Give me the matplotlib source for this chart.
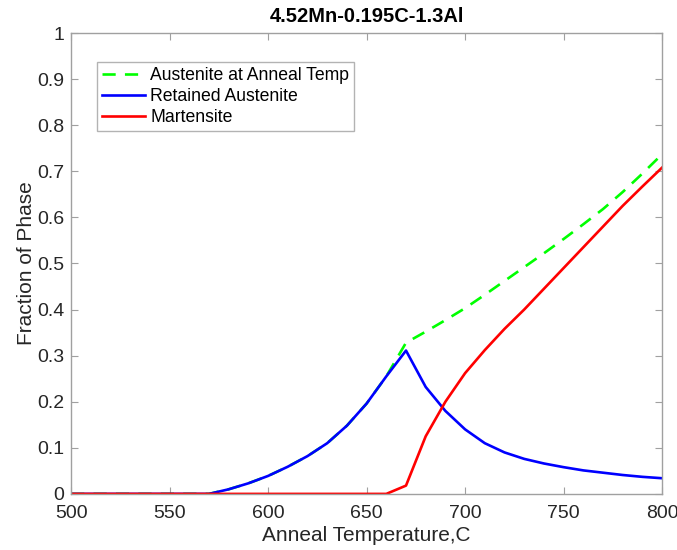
import matplotlib
matplotlib.use("Agg")
import matplotlib.pyplot as plt

# anneal temperatures (C)
temps = [500, 510, 520, 530, 540, 550, 560, 570, 580, 590,
         600, 610, 620, 630, 640, 650, 660, 670, 680, 690,
         700, 710, 720, 730, 740, 750, 760, 770, 780, 790, 800]

# phase fractions
austenite_anneal = [0, 0, 0, 0, 0, 0, 0, 0, 0.010, 0.023,
                    0.039, 0.059, 0.082, 0.110, 0.148, 0.196, 0.255, 0.328, 0.352, 0.377,
                    0.403, 0.432, 0.462, 0.492, 0.522, 0.553, 0.585, 0.618, 0.655, 0.695, 0.737]
retained_austenite = [0, 0, 0, 0, 0, 0, 0, 0, 0.010, 0.023,
                      0.039, 0.059, 0.082, 0.110, 0.148, 0.196, 0.255, 0.311, 0.232, 0.180,
                      0.140, 0.110, 0.090, 0.076, 0.066, 0.058, 0.051, 0.046, 0.041, 0.037, 0.034]
martensite = [0, 0, 0, 0, 0, 0, 0, 0, 0, 0,
              0, 0, 0, 0, 0, 0, 0, 0.018, 0.125, 0.200,
              0.262, 0.312, 0.358, 0.400, 0.445, 0.490, 0.535, 0.580, 0.625, 0.667, 0.708]

plt.rcParams['font.family'] = ['Liberation Sans', 'DejaVu Sans']

fig = plt.figure(figsize=(6.77, 5.5), dpi=100)
ax = fig.add_axes([0.105, 0.102, 0.873, 0.838])

ax.plot(temps, austenite_anneal, color='#00ff00', lw=1.9, ls=(0, (5, 3.5)),
        label='Austenite at Anneal Temp')
ax.plot(temps, retained_austenite, color='#0000ff', lw=1.9, label='Retained Austenite')
ax.plot(temps, martensite, color='#ff0000', lw=1.9, label='Martensite')

ax.set_xlim(500, 800)
ax.set_ylim(0, 1)
ax.set_xticks(range(500, 801, 50))
ax.set_yticks([i / 10 for i in range(11)])
ax.set_yticklabels(['0', '0.1', '0.2', '0.3', '0.4', '0.5', '0.6', '0.7', '0.8', '0.9', '1'])

for s in ax.spines.values():
    s.set_color('#a0a0a0')
    s.set_linewidth(1.0)
ax.tick_params(direction='in', length=5, color='#a0a0a0', labelsize=14,
               labelcolor='#262626', top=True, right=True)
ax.tick_params(axis='x', pad=8)
ax.tick_params(axis='y', pad=5)

ax.set_xlabel('Anneal Temperature,C', fontsize=15, color='#262626', labelpad=3)
ax.set_ylabel('Fraction of Phase', fontsize=15, color='#262626', labelpad=1)
ax.set_title('4.52Mn-0.195C-1.3Al', fontsize=14.5, fontweight='bold', pad=8)

leg = ax.legend(loc='upper left', bbox_to_anchor=(0.044, 0.937), fontsize=12.7,
                frameon=True, fancybox=False, borderpad=0.3, labelspacing=0.22,
                handlelength=2.4, handletextpad=0.3, borderaxespad=0)
leg.get_frame().set_edgecolor('#a0a0a0')
leg.get_frame().set_linewidth(1.0)

fig.savefig('out.png', dpi=100)
